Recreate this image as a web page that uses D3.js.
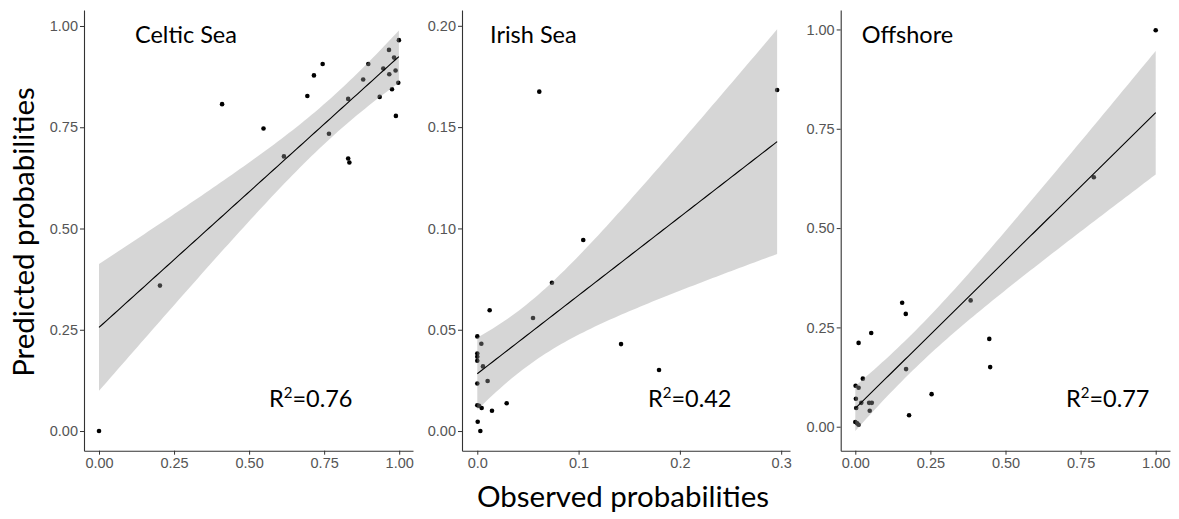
<!DOCTYPE html>
<html>
<head>
<meta charset="utf-8">
<script src="https://cdn.jsdelivr.net/npm/d3@7"></script>
<style>
  body { margin: 0; background: #fff; }
  svg { display: block; }
  .tick text { font-family: "Liberation Sans", Arial, sans-serif; font-size: 14.5px; fill: #555; }
  .tick line { stroke: #333; }
  .domain { stroke: #333; }
  .lbl { font-family: Lato, "Open Sans", sans-serif; fill: #000; }
</style>
</head>
<body>
<div id="app"></div>
<script>
// ---- data ----------------------------------------------------------------

const panels = ['Celtic Sea', 'Irish Sea', 'Offshore']
const r2Labels = ['0.76', '0.42', '0.77']

const celticObs = [0.41, 0.548, 0.616, 0.694, 0.716, 0.745, 0.766, 0.830, 0.830, 0.834, 0.880, 0.897,
    0.935, 0.947, 0.966, 0.967, 0.976, 0.983, 0.988, 0.989, 0.997, 0.999, 0.203, 0.0]
const celticPred = [0.807, 0.747, 0.678, 0.827, 0.878, 0.906, 0.734, 0.820, 0.673, 0.663, 0.868, 0.906,
    0.825, 0.895, 0.941, 0.881, 0.844, 0.922, 0.890, 0.778, 0.860, 0.965, 0.359, 0.0]

const irishObs = [0.0612, 0.296, 0.1046, 0.0737, 0.0122, 0.055, 0.0, 0.004, 0.1419, 0.0, 0.0, 0.0,
    0.0056, 0.1794, 0.0102, 0.0, 0.0, 0.0017, 0.0043, 0.029, 0.0145, 0.0004, 0.003]
const irishPred = [0.1675, 0.1683, 0.0943, 0.0732, 0.0596, 0.0558, 0.0467, 0.0431, 0.0429, 0.0383, 0.0367, 0.0347,
    0.0319, 0.0301, 0.0247, 0.0235, 0.0127, 0.0125, 0.0114, 0.0137, 0.0100, 0.0046, 0.0]

const offshoreObs = [1.0, 0.794, 0.156, 0.168, 0.384, 0.053, 0.011, 0.446, 0.449, 0.169, 0.025, 0.001,
    0.011, 0.002, 0.254, 0.020, 0.046, 0.055, 0.003, 0.048, 0.179, 0.0, 0.006, 0.011]
const offshorePred = [0.998, 0.628, 0.312, 0.284, 0.318, 0.236, 0.211, 0.221, 0.150, 0.145, 0.121, 0.103,
    0.098, 0.0705, 0.082, 0.060, 0.060, 0.060, 0.047, 0.040, 0.029, 0.012, 0.0085, 0.005]

const celticTicksX = [0, 0.25, 0.5, 0.75, 1]
const celticTicksY = [0, 0.25, 0.5, 0.75, 1]
const irishTicksX = [0, 0.1, 0.2, 0.3]
const irishTicksY = [0, 0.05, 0.1, 0.15, 0.2]
const offshoreTicksX = [0, 0.25, 0.5, 0.75, 1]
const offshoreTicksY = [0, 0.25, 0.5, 0.75, 1]

// ---- layout ---------------------------------------------------------------

const W = 1179, H = 519
const TOP = 10, BOTTOM = 450.7

const layout = [
    { left: 84, right: 413, xDom: [-0.05, 1.046], yDom: [-0.0486, 1.0395], titleDx: 51, fmtX: '.2f', fmtY: '.2f',
      obs: celticObs, pred: celticPred, tx: celticTicksX, ty: celticTicksY, r2x: 269 },
    { left: 462, right: 790, xDom: [-0.0151, 0.3087], yDom: [-0.0097, 0.2078], titleDx: 28, fmtX: '.1f', fmtY: '.2f',
      obs: irishObs, pred: irishPred, tx: irishTicksX, ty: irishTicksY, r2x: 648 },
    { left: 840.7, right: 1170, xDom: [-0.0486, 1.0476], yDom: [-0.0604, 1.049], titleDx: 21, fmtX: '.2f', fmtY: '.2f',
      obs: offshoreObs, pred: offshorePred, tx: offshoreTicksX, ty: offshoreTicksY, r2x: 1066 },
]

// least squares fit + 95% confidence band, same as geom_smooth(method = 'lm')
const fitLm = (xs, ys) => {
    const n = xs.length
    const mx = d3.mean(xs), my = d3.mean(ys)
    const sxx = d3.sum(xs, x => (x - mx) ** 2)
    const sxy = d3.sum(xs, (x, i) => (x - mx) * (ys[i] - my))
    const b = sxy / sxx, a = my - b * mx
    const sse = d3.sum(xs, (x, i) => (ys[i] - a - b * x) ** 2)
    const s = Math.sqrt(sse / (n - 2))
    // t quantile (0.975) by Cornish-Fisher expansion
    const z = 1.959964, df = n - 2
    const t = z + (z ** 3 + z) / (4 * df) + (5 * z ** 5 + 16 * z ** 3 + 3 * z) / (96 * df * df)
    const [x0, x1] = d3.extent(xs)
    return d3.range(80).map(i => {
        const x = x0 + (x1 - x0) * i / 79
        const yhat = a + b * x
        const se = s * Math.sqrt(1 / n + (x - mx) ** 2 / sxx)
        return { x, y: yhat, lo: yhat - t * se, hi: yhat + t * se }
    })
}

const svg = d3.select('#app').append('svg')
    .attr('width', W)
    .attr('height', H)

layout.forEach((p, k) => {
    const x = d3.scaleLinear().domain(p.xDom).range([p.left, p.right])
    const y = d3.scaleLinear().domain(p.yDom).range([BOTTOM, TOP])
    const g = svg.append('g')

    // points first, ribbon goes over them (like ggplot)
    g.selectAll('circle').data(p.obs).join('circle')
        .attr('cx', d => x(d))
        .attr('cy', (d, i) => y(p.pred[i]))
        .attr('r', 2.3)
        .attr('fill', '#000')

    const fit = fitLm(p.obs, p.pred)
    g.append('path').datum(fit)
        .attr('d', d3.area().x(d => x(d.x)).y0(d => y(d.lo)).y1(d => y(d.hi)))
        .attr('fill', '#999')
        .attr('fill-opacity', 0.4)
    g.append('path').datum(fit)
        .attr('d', d3.line().x(d => x(d.x)).y(d => y(d.y)))
        .attr('fill', 'none')
        .attr('stroke', '#000')
        .attr('stroke-width', 1.1)

    g.append('g').attr('transform', `translate(0,${BOTTOM})`)
        .call(d3.axisBottom(x).tickValues(p.tx).tickFormat(d3.format(p.fmtX)).tickSize(4).tickPadding(3).tickSizeOuter(0))
    g.append('g').attr('transform', `translate(${p.left},0)`)
        .call(d3.axisLeft(y).tickValues(p.ty).tickFormat(d3.format(p.fmtY)).tickSize(4).tickPadding(2).tickSizeOuter(0))

    g.append('text').attr('class', 'lbl')
        .attr('x', p.left + p.titleDx).attr('y', 42.7)
        .style('font-size', '23.5px')
        .text(panels[k])

    const r2 = g.append('text').attr('class', 'lbl')
        .attr('x', p.r2x).attr('y', 406.5)
        .style('font-size', '23.5px')
    r2.append('tspan').text('R')
    r2.append('tspan').attr('dy', -8.5).style('font-size', '15px').text('2')
    r2.append('tspan').attr('dy', 8.5).text('=' + r2Labels[k])
})

svg.selectAll('.domain').attr('stroke-width', 1.1)

svg.append('text').attr('class', 'lbl')
    .attr('x', 623).attr('y', 507)
    .attr('text-anchor', 'middle')
    .style('font-size', '29.5px')
    .text('Observed probabilities')

svg.append('text').attr('class', 'lbl')
    .attr('transform', 'translate(34,232) rotate(-90)')
    .attr('text-anchor', 'middle')
    .style('font-size', '29.5px')
    .text('Predicted probabilities')
</script>
</body>
</html>
